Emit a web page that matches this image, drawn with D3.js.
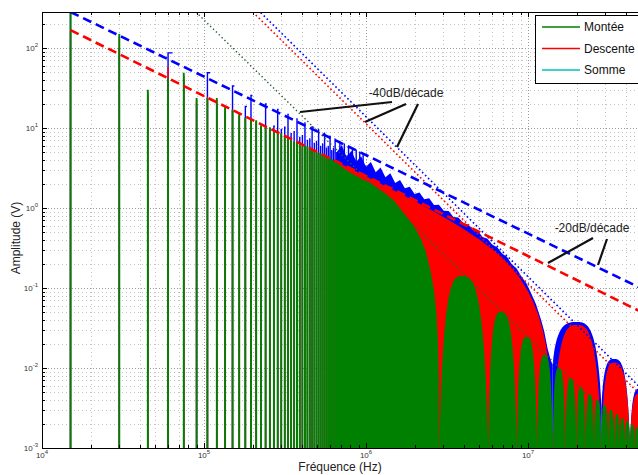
<!DOCTYPE html>
<html>
<head>
<meta charset="utf-8">
<script src="https://cdn.jsdelivr.net/npm/d3@7"></script>
<style>
  body { margin: 0; background: #fff; }
  svg { display: block; }
  text { font-family: Arial, "Liberation Sans", sans-serif; }
</style>
</head>
<body>
<svg id="chart" width="638" height="475"></svg>
<script>
// Fundamental of the periodic signal (Hz); harmonic n sits at n * f0
const f0 = 15000;

// Harmonic amplitudes (V), harmonic 1, 2, 3, ...
const montee = [320, 150, 30, 42, 49, 23.7, 23.7, 23.7, 18.3, 16.8, 15.4, 13.5, 13.2, 12.5, 10.8, 10.5,
  10.2, 9.0, 8.8, 8.6, 7.8, 7.6, 7.5, 6.8, 6.7, 6.6, 6.0, 6.0, 5.9, 5.4, 5.4, 5.3, 4.9, 4.9, 4.8, 4.5,
  4.5, 4.4, 4.2, 4.15, 4.05, 3.9, 3.8, 3.7];
const descente = [160, 140, 28, 58, 45, 22, 24.5, 22, 17.5, 17.2, 14.8, 13, 13.2, 12, 10.5, 10.6,
  9.8, 8.8, 8.9, 8.3, 7.6, 7.7, 7.2, 6.7, 6.75, 6.4, 5.9, 6.0, 5.75, 5.3, 5.45, 5.2, 4.85, 4.95, 4.7,
  4.45, 4.55, 4.35, 4.15, 4.2, 4.0, 3.9, 3.85, 3.75];
const somme = [330, 100, 25, 87, 40, 20, 49, 20, 16, 33.5, 14, 18.6, 25.5, 12, 10.5, 20, 10, 10.5, 17,
  9.5, 10.2, 14.8, 8.5, 9.0, 13.0, 7.6, 8.0, 11.6, 7.0, 7.3, 10.4, 6.4, 6.8, 9.5, 5.9, 6.3, 8.6, 5.6,
  5.9, 7.9, 5.2, 5.5, 7.3, 4.9, 5.1, 6.8, 4.6, 4.8, 6.3, 4.3, 4.5, 5.9, 4.0, 4.2, 5.5, 3.8, 3.95, 5.3,
  3.6, 3.75, 5.0, 3.4, 3.55, 4.7, 3.25, 3.35];

// Upper envelope of the dense part of each spectrum (Hz, V)
const monteeEnvF = [6.61e5, 7.24e5, 7.94e5, 8.71e5, 9.55e5, 1.047e6, 1.148e6, 1.259e6, 1.380e6, 1.514e6,
  1.660e6, 1.820e6, 1.995e6, 2.188e6, 2.344e6, 2.512e6, 2.630e6, 2.723e6, 2.786e6, 2.818e6, 2.84e6];
const monteeEnvA = [3.65, 3.16, 2.79, 2.51, 2.27, 2.09, 1.86, 1.62, 1.41, 1.19,
  0.933, 0.741, 0.575, 0.407, 0.282, 0.158, 0.0933, 0.0479, 0.020, 0.0079, 0.001];

const descenteEnvF = [6.61e5, 7.94e5, 1e6, 1.259e6, 1.585e6, 1.995e6, 2.512e6, 3.162e6, 3.981e6, 5.012e6,
  6.310e6, 7.079e6, 7.943e6, 8.913e6, 1e7, 1.0715e7, 1.148e7, 1.230e7, 1.288e7, 1.349e7, 1.380e7, 1.396e7, 1.42e7];
const descenteEnvA = [3.76, 3.13, 2.49, 1.97, 1.55, 1.22, 0.950, 0.731, 0.552, 0.405,
  0.281, 0.227, 0.177, 0.132, 0.091, 0.069, 0.0488, 0.0306, 0.0198, 0.0105, 0.00525, 0.00309, 0.001];

const sommeEnvF = [6.61e5, 7.08e5, 7.59e5, 8.13e5, 8.71e5, 9.33e5, 1.0e6, 1.072e6, 1.148e6, 1.230e6,
  1.318e6, 1.413e6, 1.514e6, 1.622e6, 1.738e6, 1.862e6, 1.995e6, 2.138e6, 2.291e6, 2.455e6, 2.630e6,
  2.818e6, 3.020e6, 3.236e6, 3.467e6, 3.715e6, 3.981e6, 4.266e6, 4.571e6, 4.898e6, 5.248e6, 5.623e6,
  6.026e6, 6.457e6, 6.918e6, 7.413e6, 7.943e6, 8.511e6, 9.120e6, 9.772e6, 1.047e7, 1.122e7, 1.202e7,
  1.259e7, 1.318e7, 1.380e7, 1.42e7];
const sommeEnvA = [4.98, 6.12, 4.34, 5.21, 3.78, 4.44, 3.28, 3.77, 2.79, 3.20,
  2.42, 2.71, 2.05, 2.24, 1.77, 1.85, 1.50, 1.56, 1.29, 1.32, 1.09,
  1.10, 0.927, 0.916, 0.771, 0.759, 0.649, 0.621, 0.536, 0.515, 0.434, 0.414,
  0.348, 0.324, 0.269, 0.245, 0.198, 0.175, 0.138, 0.115, 0.0851, 0.0624, 0.0403,
  0.0288, 0.0178, 0.0126, 0.011];

// Secondary lobes: [start Hz, start V, peak Hz, peak V, end Hz, end V]
const monteeLobes = [
  [2.84e6, 0.001, 3.92e6, 0.141, 5.68e6, 0.001],
  [5.68e6, 0.001, 6.8e6, 0.050, 8.52e6, 0.001],
  [8.52e6, 0.001, 9.8e6, 0.0244, 1.136e7, 0.001],
  [1.136e7, 0.001, 1.264e7, 0.0145, 1.42e7, 0.001],
  [1.42e7, 0.001, 1.548e7, 0.0100, 1.704e7, 0.001],
  [1.704e7, 0.001, 1.832e7, 0.0075, 1.988e7, 0.001],
  [1.988e7, 0.001, 2.116e7, 0.0058, 2.272e7, 0.001],
  [2.272e7, 0.001, 2.40e7, 0.0047, 2.556e7, 0.001],
  [2.556e7, 0.001, 2.684e7, 0.0040, 2.84e7, 0.001],
  [2.84e7, 0.001, 2.968e7, 0.00345, 3.124e7, 0.001],
  [3.124e7, 0.001, 3.252e7, 0.0030, 3.408e7, 0.001],
  [3.408e7, 0.001, 3.536e7, 0.00266, 3.692e7, 0.001],
  [3.692e7, 0.001, 3.82e7, 0.00237, 3.976e7, 0.001],
  [3.976e7, 0.001, 4.10e7, 0.00218, 4.26e7, 0.001],
  [4.26e7, 0.001, 4.39e7, 0.0020, 4.544e7, 0.001],
  [4.544e7, 0.001, 4.67e7, 0.00183, 4.828e7, 0.001],
  [4.828e7, 0.001, 4.95e7, 0.0017, 5.11e7, 0.001]
];
const descenteLobes = [
  [1.42e7, 0.001, 2.0e7, 0.0345, 2.84e7, 0.001],
  [2.84e7, 0.001, 3.4e7, 0.0116, 4.26e7, 0.001],
  [4.26e7, 0.001, 4.85e7, 0.0048, 5.68e7, 0.001]
];
const sommeLobes = [
  [1.42e7, 0.011, 2.0e7, 0.0376, 2.84e7, 0.00316],
  [2.84e7, 0.00316, 3.4e7, 0.013, 4.26e7, 0.0009],
  [4.26e7, 0.0009, 4.85e7, 0.0055, 5.68e7, 0.001]
];

// Asymptotes: [Hz, V] end points
const pente20Descente = [[1.5e4, 167.5], [1e8, 0.02512]];
const pente20Somme = [[1.5e4, 335], [1e8, 0.0501]];
const pente40Montee = [[8.91e4, 297.6], [5.01e7, 0.00094]];
const pente40Descente = [[2.0e5, 285.5], [6.31e7, 0.00285]];
const pente40Somme = [[2.24e5, 276.4], [6.31e7, 0.00348]];

const xTicks = [1e4, 1e5, 1e6, 1e7];
const xTickExp = ["4", "5", "6", "7"];
const yTicks = [1e-3, 1e-2, 1e-1, 1e0, 1e1, 1e2];
const yTickExp = ["-3", "-2", "-1", "0", "1", "2"];

const legendNames = ["Montée", "Descente", "Somme"];
const legendColors = ["#008000", "#ff0000", "#00bfbf"];

// ---------------------------------------------------------------
const GREEN = "#008000", RED = "#ff0000", BLUE = "#0000ff";
const svg = d3.select("#chart");
const x = d3.scaleLog().domain([1e4, 1e8]).range([42, 690]);
const y = d3.scaleLog().domain([1e-3, Math.pow(10, 2.45)]).range([448, 12]).clamp(true);
const X0 = 42, Y0 = 448, YT = 12, XR = 690;

svg.append("defs").append("clipPath").attr("id", "plot")
  .append("rect").attr("x", X0).attr("y", YT).attr("width", XR - X0).attr("height", Y0 - YT);

// grid
const grid = svg.append("g");
for (let d = 4; d <= 7; d++) {
  for (let k = 1; k <= 9; k++) {
    const v = k * Math.pow(10, d), px = Math.round(x(v)) + 0.5;
    grid.append("line").attr("x1", px).attr("x2", px).attr("y1", YT).attr("y2", Y0)
      .attr("stroke", k === 1 ? "#9a9a9a" : "#c2c2c2").attr("stroke-width", 1)
      .attr("stroke-dasharray", k === 1 ? "1,2" : "1,3");
  }
}
for (let d = -3; d <= 2; d++) {
  for (let k = 1; k <= 9; k++) {
    const v = k * Math.pow(10, d);
    if (v > y.domain()[1]) continue;
    const py = Math.round(y(v)) + 0.5;
    grid.append("line").attr("x1", X0).attr("x2", XR).attr("y1", py).attr("y2", py)
      .attr("stroke", k === 1 ? "#9a9a9a" : "#c2c2c2").attr("stroke-width", 1)
      .attr("stroke-dasharray", k === 1 ? "1,2" : "1,3");
  }
}

const plot = svg.append("g").attr("clip-path", "url(#plot)");
const capHz = 4000;

// vertical line per harmonic; a short top cap where that harmonic of the sum stands out
function spikes(values, color, width, covers) {
  const g = plot.append("g").attr("fill", "none").attr("stroke", color).attr("stroke-width", width);
  values.forEach((a, i) => {
    const f = (i + 1) * f0;
    const p = d3.path();
    p.moveTo(x(f), Y0);
    p.lineTo(x(f), y(a));
    if (covers && covers.every(arr => i >= arr.length || arr[i] < a)) p.lineTo(x(f + capHz), y(a));
    g.append("path").attr("d", p.toString());
  });
}
const area = d3.area().x(d => x(d[0])).y0(Y0).y1(d => y(d[1]));
function envelope(F, A, color) {
  plot.append("path").attr("d", area(d3.zip(F, A))).attr("fill", color);
}
function lobes(list, color) {
  list.forEach(([fa, aa, fp, ap, fb, ab]) => {
    const xa = x(fa), ya = y(aa), xp = x(fp), yp = y(ap), xb = x(fb), yb = y(ab);
    const p = d3.path();
    p.moveTo(xa, Y0);
    p.lineTo(xa, ya);
    p.bezierCurveTo(xa + 0.15 * (xp - xa), yp, xa + 0.6 * (xp - xa), yp, xp, yp);
    p.bezierCurveTo(xp + 0.4 * (xb - xp), yp, xb - 0.15 * (xb - xp), yp, xb, yb);
    p.lineTo(xb, Y0);
    p.closePath();
    plot.append("path").attr("d", p.toString()).attr("fill", color);
  });
}

// sum, then fall, then rise on top
spikes(somme, BLUE, 1.4, [montee, descente]);
envelope(sommeEnvF, sommeEnvA, BLUE);
lobes(sommeLobes, BLUE);
spikes(descente, RED, 1.4, null);
envelope(descenteEnvF, descenteEnvA, RED);
lobes(descenteLobes, RED);
spikes(montee, GREEN, 1.9, null);
envelope(monteeEnvF, monteeEnvA, GREEN);
lobes(monteeLobes, GREEN);

// asymptotes
const seg = d3.line().x(d => x(d[0])).y(d => y(d[1]));
function asym(data, color, width, dash) {
  plot.append("path").attr("d", seg(data)).attr("fill", "none").attr("stroke", color)
    .attr("stroke-width", width).attr("stroke-dasharray", dash);
}
asym(pente40Montee, "#2c5e2c", 1.4, "1.4,2.6");
asym(pente40Descente, RED, 1.6, "1.6,2.6");
asym(pente40Somme, BLUE, 1.6, "1.6,2.6");
asym(pente20Descente, RED, 2.6, "9,5");
asym(pente20Somme, BLUE, 2.6, "9,5");

// frame and ticks
const axes = svg.append("g").attr("stroke", "#000").attr("stroke-width", 1);
axes.append("line").attr("x1", X0 + 0.5).attr("x2", X0 + 0.5).attr("y1", YT).attr("y2", Y0 + 0.5);
axes.append("line").attr("x1", X0).attr("x2", XR).attr("y1", Y0 + 0.5).attr("y2", Y0 + 0.5);
axes.append("line").attr("x1", X0).attr("x2", XR).attr("y1", YT + 0.5).attr("y2", YT + 0.5);
for (let d = 4; d <= 7; d++) {
  for (let k = 1; k <= 9; k++) {
    const px = Math.round(x(k * Math.pow(10, d))) + 0.5, L = k === 1 ? 5 : 3;
    axes.append("line").attr("x1", px).attr("x2", px).attr("y1", Y0).attr("y2", Y0 - L);
    axes.append("line").attr("x1", px).attr("x2", px).attr("y1", YT).attr("y2", YT + L);
  }
}
for (let d = -3; d <= 2; d++) {
  for (let k = 1; k <= 9; k++) {
    const v = k * Math.pow(10, d);
    if (v > y.domain()[1]) continue;
    const py = Math.round(y(v)) + 0.5, L = k === 1 ? 5 : 3;
    axes.append("line").attr("x1", X0).attr("x2", X0 + L).attr("y1", py).attr("y2", py);
  }
}

// tick labels
xTicks.forEach((v, i) => {
  const t = svg.append("text").attr("x", x(v)).attr("y", 458).attr("text-anchor", "middle")
    .attr("font-size", 8).attr("fill", "#333").text("10");
  t.append("tspan").attr("dy", -4).attr("font-size", 6).text(xTickExp[i]);
});
yTicks.forEach((v, i) => {
  const t = svg.append("text").attr("x", 38).attr("y", y(v) + 3).attr("text-anchor", "end")
    .attr("font-size", 8).attr("fill", "#333").text("10");
  t.append("tspan").attr("dy", -4).attr("font-size", 6).text(yTickExp[i]);
});

svg.append("text").attr("x", 340).attr("y", 471).attr("text-anchor", "middle")
  .attr("font-size", 12).attr("fill", "#222").text("Fréquence (Hz)");
svg.append("text").attr("transform", "translate(20,238) rotate(-90)").attr("text-anchor", "middle")
  .attr("font-size", 12).attr("fill", "#222").text("Amplitude (V)");

// slope annotations
const note = svg.append("g").attr("stroke", "#111").attr("stroke-width", 2.2).attr("fill", "none");
[[392, 102, 300, 112], [406, 104, 365, 122], [418, 104, 397, 147],
 [593, 238, 548, 263], [607, 239, 598, 265]].forEach(([a, b, c, d]) =>
  note.append("line").attr("x1", a).attr("y1", b).attr("x2", c).attr("y2", d));
svg.append("text").attr("x", 406).attr("y", 97).attr("text-anchor", "middle")
  .attr("font-size", 12).attr("fill", "#222").text("-40dB/décade");
svg.append("text").attr("x", 592).attr("y", 232).attr("text-anchor", "middle")
  .attr("font-size", 12).attr("fill", "#222").text("-20dB/décade");

// legend
const leg = svg.append("g");
leg.append("rect").attr("x", 535.5).attr("y", 15.5).attr("width", 130).attr("height", 68)
  .attr("fill", "#fff").attr("stroke", "#000").attr("stroke-width", 1);
legendNames.forEach((name, i) => {
  const yy = 27 + i * 21.5;
  leg.append("line").attr("x1", 542).attr("x2", 580).attr("y1", yy).attr("y2", yy)
    .attr("stroke", legendColors[i]).attr("stroke-width", 1.5);
  leg.append("text").attr("x", 584).attr("y", yy + 4).attr("font-size", 12).attr("fill", "#111").text(name);
});
</script>
</body>
</html>
